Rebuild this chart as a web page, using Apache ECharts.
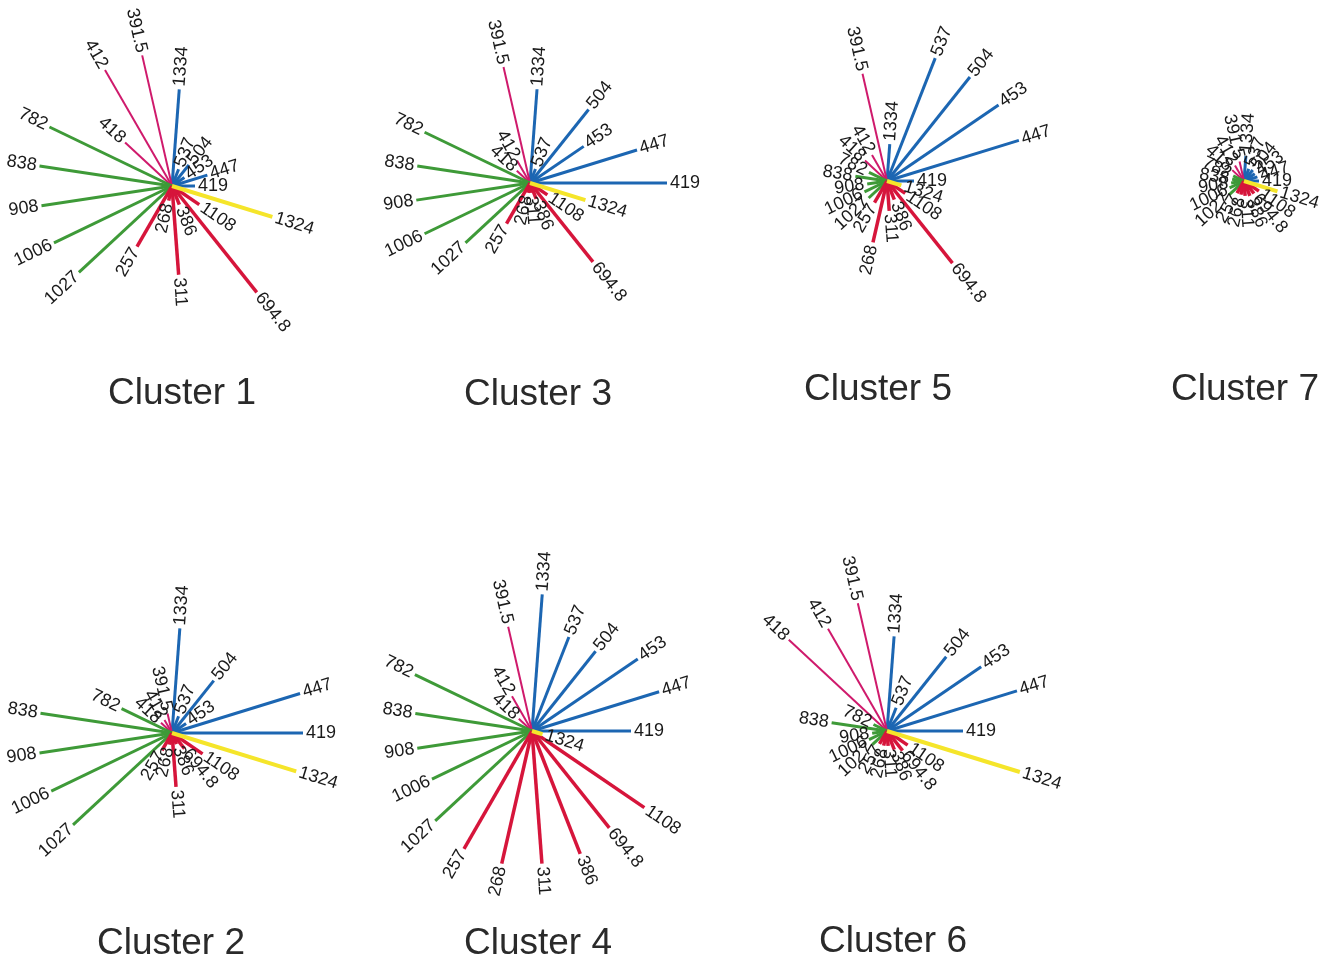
<!DOCTYPE html>
<html>
<head>
<meta charset="utf-8">
<script src="https://cdn.jsdelivr.net/npm/echarts@6/dist/echarts.min.js"></script>
<style>
  html, body { margin: 0; padding: 0; background: #fff; }
  #chart { width: 1319px; height: 958px; }
</style>
</head>
<body>
<div id="chart"></div>
<script>
// wavelengths, counter-clockwise from 419 (pointing right)
const variables = ['419', '447', '453', '504', '537', '1334', '391.5', '412', '418',
  '782', '838', '908', '1006', '1027', '257', '268', '311', '386', '694.8', '1108', '1324'];
const groups = ['blue', 'blue', 'blue', 'blue', 'blue', 'blue', 'pink', 'pink', 'pink',
  'green', 'green', 'green', 'green', 'green', 'red', 'red', 'red', 'red', 'red', 'red', 'yellow'];

// spoke lengths per cluster, same order as variables
const cluster1 = [23, 37, 15, 27, 18, 97, 134, 134, 64, 136, 134, 132, 131, 127, 70, 15, 89, 20, 136, 33, 105];
const cluster2 = [131, 134, 17, 67, 18, 105, 20, 15, 15, 56, 133, 134, 134, 135, 20, 12, 54, 12, 20, 37, 130];
const cluster3 = [137, 112, 65, 94, 15, 94, 119, 26, 18, 117, 114, 115, 117, 88, 47, 10, 10, 17, 101, 21, 58];
const cluster4 = [99, 133, 128, 102, 101, 137, 107, 40, 18, 130, 118, 116, 111, 132, 136, 136, 133, 132, 124, 136, 11];
const cluster5 = [27, 138, 135, 133, 132, 37, 110, 30, 30, 20, 32, 20, 25, 25, 25, 63, 30, 20, 105, 22, 15];
const cluster6 = [76, 136, 114, 95, 25, 95, 131, 118, 134, 15, 56, 15, 20, 20, 15, 15, 15, 20, 25, 25, 139];
const cluster7 = [15, 14, 13, 14, 13, 25, 20, 18, 16, 12, 12, 13, 16, 20, 14, 14, 15, 16, 16, 18, 35];

const clusters = [
  { name: 'Cluster 1', values: cluster1, center: [172, 186], title: [177, 370] },
  { name: 'Cluster 3', values: cluster3, center: [530, 183], title: [533, 371] },
  { name: 'Cluster 5', values: cluster5, center: [887, 181], title: [873, 366] },
  { name: 'Cluster 7', values: cluster7, center: [1244, 181], title: [1240, 366] },
  { name: 'Cluster 2', values: cluster2, center: [172, 733], title: [166, 920] },
  { name: 'Cluster 4', values: cluster4, center: [532, 731], title: [533, 920] },
  { name: 'Cluster 6', values: cluster6, center: [887, 731], title: [888, 918] }
];

const colors = { blue: '#1c66b2', pink: '#cf1a6c', green: '#3e9a38', red: '#d6153b', yellow: '#f5e52a' };
const widths = { blue: 3, pink: 2, green: 3, red: 3.5, yellow: 4 };
const R = 200;

const chart = echarts.init(document.getElementById('chart'));

function renderSpoke(params, api) {
  const idx = api.value(1);
  const p0 = api.coord([0, idx]);
  const p1 = api.coord([api.value(0), idx]);
  const g = groups[idx];
  const theta = Math.atan2(p0[1] - p1[1], p1[0] - p0[0]);
  const right = Math.cos(theta) >= -0.01;
  const gap = 3;
  return {
    type: 'group',
    children: [
      {
        type: 'line',
        shape: { x1: p0[0], y1: p0[1], x2: p1[0], y2: p1[1] },
        style: { stroke: colors[g], lineWidth: widths[g] }
      },
      {
        type: 'text',
        x: p1[0] + gap * Math.cos(theta),
        y: p1[1] - gap * Math.sin(theta),
        rotation: right ? theta : theta - Math.PI,
        style: {
          text: variables[idx],
          fill: '#1a1a1a',
          font: '18px "Liberation Sans", Arial, sans-serif',
          align: right ? 'left' : 'right',
          verticalAlign: 'middle'
        },
        z2: 10
      }
    ]
  };
}

const option = {
  backgroundColor: '#ffffff',
  animation: false,
  title: clusters.map(c => ({
    text: c.name,
    left: c.title[0],
    top: c.title[1],
    textAlign: 'center',
    textStyle: { fontFamily: '"Liberation Sans", Arial, sans-serif', fontSize: 37, fontWeight: 'normal', color: '#2a2a2a' }
  })),
  polar: clusters.map(c => ({ center: c.center, radius: R })),
  radiusAxis: clusters.map((c, i) => ({ polarIndex: i, min: 0, max: R, show: false })),
  angleAxis: clusters.map((c, i) => ({
    polarIndex: i, type: 'value', min: 0, max: variables.length,
    startAngle: 0, clockwise: false, show: false
  })),
  series: clusters.map((c, i) => ({
    type: 'custom',
    name: c.name,
    coordinateSystem: 'polar',
    polarIndex: i,
    renderItem: renderSpoke,
    data: c.values.map((v, k) => [v, k])
  }))
};

chart.setOption(option);
</script>
</body>
</html>
